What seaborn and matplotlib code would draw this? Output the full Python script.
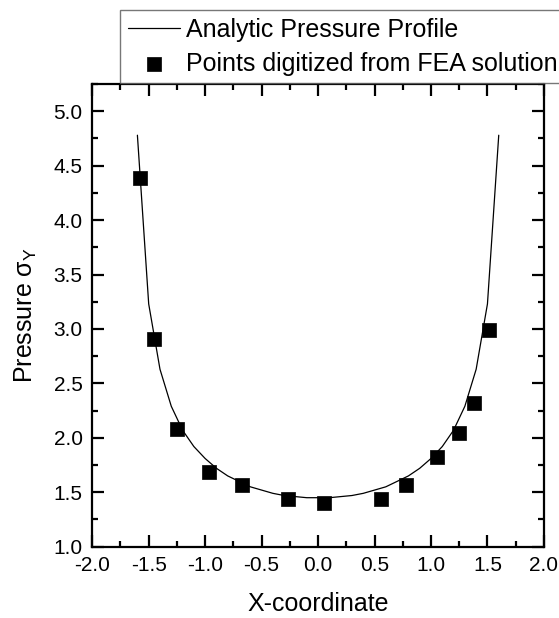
import numpy as np
import pandas as pd
import matplotlib
matplotlib.use("Agg")
import matplotlib.pyplot as plt
from matplotlib.ticker import MultipleLocator
import seaborn as sns

# Analytic pressure profile
curve_x = [-1.6, -1.5, -1.4, -1.3, -1.2, -1.1, -1.0, -0.9, -0.8, -0.7, -0.6, -0.5,
           -0.4, -0.3, -0.2, -0.1, 0.0, 0.1, 0.2, 0.3, 0.4, 0.5, 0.6, 0.7, 0.8,
           0.9, 1.0, 1.1, 1.2, 1.3, 1.4, 1.5, 1.6]
curve_y = [4.78, 3.23, 2.63, 2.29, 2.07, 1.92, 1.81, 1.72, 1.65, 1.60, 1.55, 1.52,
           1.49, 1.47, 1.46, 1.45, 1.45, 1.45, 1.46, 1.47, 1.49, 1.52, 1.55, 1.60,
           1.65, 1.72, 1.81, 1.92, 2.07, 2.29, 2.63, 3.23, 4.78]

fea_x = [-1.58, -1.45, -1.25, -0.97, -0.67, -0.27, 0.05, 0.56, 0.78, 1.05, 1.25, 1.38, 1.51]
fea_y = [4.39, 2.91, 2.08, 1.69, 1.57, 1.44, 1.40, 1.44, 1.57, 1.82, 2.04, 2.32, 2.99]

x_ticks = [-2.0, -1.5, -1.0, -0.5, 0.0, 0.5, 1.0, 1.5, 2.0]
y_ticks = [1.0, 1.5, 2.0, 2.5, 3.0, 3.5, 4.0, 4.5, 5.0]

sns.set_theme(style="ticks")
plt.rcParams["font.family"] = ["Liberation Sans", "DejaVu Sans"]
plt.rcParams["text.color"] = "black"
plt.rcParams["axes.labelcolor"] = "black"
plt.rcParams["xtick.color"] = "black"
plt.rcParams["ytick.color"] = "black"

curve_df = pd.DataFrame({"x": curve_x, "y": curve_y})
fea_df = pd.DataFrame({"x": fea_x, "y": fea_y})

fig = plt.figure(figsize=(5.59, 6.18), dpi=100)
ax = fig.add_axes([0.165, 0.1154, 0.808, 0.7486])

sns.lineplot(data=curve_df, x="x", y="y", ax=ax, color="black", linewidth=0.9,
             sort=False, label="Analytic Pressure Profile", legend=False)
sns.scatterplot(data=fea_df, x="x", y="y", ax=ax, color="black", marker="s",
                s=90, edgecolor="black", linewidth=0.5,
                label="Points digitized from FEA solution", legend=False)

ax.set_xlim(-2.0, 2.0)
ax.set_ylim(1.0, 5.25)
ax.set_xticks(x_ticks)
ax.set_xticklabels([f"{v:.1f}" for v in x_ticks])
ax.set_yticks(y_ticks)
ax.set_yticklabels([f"{v:.1f}" for v in y_ticks])
ax.xaxis.set_minor_locator(MultipleLocator(0.25))
ax.yaxis.set_minor_locator(MultipleLocator(0.25))

ax.tick_params(which="both", direction="in", top=True, right=True,
               labeltop=False, labelright=False, width=1.6, color="black",
               labelcolor="black")
ax.tick_params(which="major", length=8.5, labelsize=15, pad=7)
ax.tick_params(which="minor", length=4.5)
for sp in ax.spines.values():
    sp.set_linewidth(1.6)
    sp.set_color("black")
    sp.set_visible(True)

ax.set_xlabel("X-coordinate", fontsize=18, labelpad=12, color="black")
ax.set_ylabel("Pressure σ$_\\mathregular{Y}$", fontsize=18, labelpad=10, color="black")

handles, labels = ax.get_legend_handles_labels()
leg = fig.legend(handles, labels, loc="upper left",
                 bbox_to_anchor=(120 / 559, 1 - 10 / 618),
                 bbox_transform=fig.transFigure,
                 fontsize=18, frameon=True, fancybox=False, shadow=False,
                 borderpad=0.3, labelspacing=0.4, handlelength=2.1,
                 handletextpad=0.25, borderaxespad=0.0, markerscale=1.0)
leg.get_frame().set_edgecolor("#555555")
leg.get_frame().set_linewidth(1.0)
for t in leg.get_texts():
    t.set_color("black")

fig.savefig("out.png", dpi=100)
